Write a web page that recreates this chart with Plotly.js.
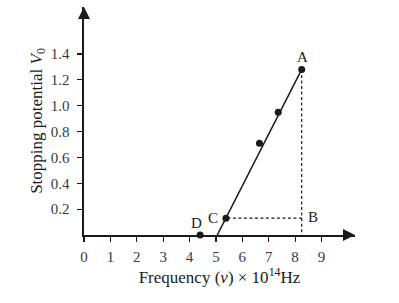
<!DOCTYPE html>
<html>
<head>
<meta charset="utf-8">
<script src="https://cdn.plot.ly/plotly-3.0.1.min.js"></script>
<style>html,body{margin:0;padding:0;background:#fff;}#chart{width:399px;height:303px;}</style>
</head>
<body>
<div id="chart"></div>
<script>
// Measured points (frequency ×10^14 Hz, stopping potential V)
var freq = [5.38, 6.65, 7.36, 8.25];
var potential = [0.13, 0.71, 0.95, 1.28];
// Point D on the frequency axis
var pointDX = [4.4];
var pointDY = [0];
// Straight line through the data (from the axis intercept to A)
var fitX = [5.05, 8.25];
var fitY = [0, 1.28];
// Tick values / labels
var xTicks = [0, 1, 2, 3, 4, 5, 6, 7, 8, 9];
var xTickText = ['0', '1', '2', '3', '4', '5', '6', '7', '8', '9'];
var yTicks = [0.2, 0.4, 0.6, 0.8, 1.0, 1.2, 1.4];
var yTickText = ['0.2', '0.4', '0.6', '0.8', '1.0', '1.2', '1.4'];
// Point labels
var labelNames = ['A', 'B', 'C', 'D'];
var labelX = [8.25, 8.25, 5.38, 4.4];
var labelY = [1.28, 0.13, 0.13, 0];

var xMax = 10.27, yMax = 1.763;
var serif = 'Liberation Serif, Times New Roman, serif';
var ink = '#1a1a1a';

var traces = [
  {x: fitX, y: fitY, mode: 'lines', line: {color: ink, width: 1.5}, hoverinfo: 'skip'},
  {x: [labelX[0], labelX[1], labelX[2]], y: [labelY[0], labelY[1], labelY[2]],
   mode: 'lines', line: {color: ink, width: 1.2, dash: '3px,2.5px'}, hoverinfo: 'skip'},
  {x: [labelX[1], labelX[1]], y: [labelY[1], 0], mode: 'lines',
   line: {color: ink, width: 1.2, dash: '3px,2.5px'}, hoverinfo: 'skip'},
  {x: freq, y: potential, mode: 'markers', marker: {color: ink, size: 7}, cliponaxis: false},
  {x: pointDX, y: pointDY, mode: 'markers', marker: {color: ink, size: 7}, cliponaxis: false},
  // axis arrowheads
  {x: [0], y: [yMax], mode: 'markers', cliponaxis: false, hoverinfo: 'skip',
   marker: {symbol: 'arrow-up', size: 12, color: ink, line: {width: 0}}},
  {x: [xMax], y: [0], mode: 'markers', cliponaxis: false, hoverinfo: 'skip',
   marker: {symbol: 'arrow-right', size: 12, color: ink, line: {width: 0}}}
];

var shifts = [[1, 12], [11, 1], [-13, 0], [-4, 12]];
var annotations = labelNames.map(function (n, i) {
  return {x: labelX[i], y: labelY[i], xref: 'x', yref: 'y', text: n, showarrow: false,
    xshift: shifts[i][0], yshift: shifts[i][1], font: {family: serif, size: 15, color: ink}};
});

var layout = {
  width: 399, height: 303,
  margin: {l: 84, r: 44, t: 7, b: 68},
  paper_bgcolor: '#fff', plot_bgcolor: '#fff',
  showlegend: false,
  font: {family: serif, size: 14, color: ink},
  xaxis: {
    range: [0, xMax], showgrid: false, zeroline: false,
    showline: true, linecolor: ink, linewidth: 1.6,
    tickmode: 'array', tickvals: xTicks, ticktext: xTickText,
    ticks: 'outside', ticklen: 5, tickwidth: 1.2, tickcolor: ink,
    ticklabelstandoff: 2,
    tickfont: {family: serif, size: 15, color: '#3a3a3a'},
    title: {text: 'Frequency (<i>v</i>) × 10<sup>14</sup>Hz', font: {family: serif, size: 17, color: ink}, standoff: 5}
  },
  yaxis: {
    range: [0, yMax], showgrid: false, zeroline: false,
    showline: true, linecolor: ink, linewidth: 1.6,
    tickmode: 'array', tickvals: yTicks, ticktext: yTickText,
    ticks: 'outside', ticklen: 5, tickwidth: 1.2, tickcolor: ink,
    ticklabelstandoff: 5,
    tickfont: {family: serif, size: 15, color: '#3a3a3a'},
    title: {text: 'Stopping potential <i>V</i><sub>0</sub>', font: {family: serif, size: 17, color: ink}, standoff: 4}
  },
  annotations: annotations
};

Plotly.newPlot('chart', traces, layout, {staticPlot: true, displayModeBar: false});
</script>
</body>
</html>
